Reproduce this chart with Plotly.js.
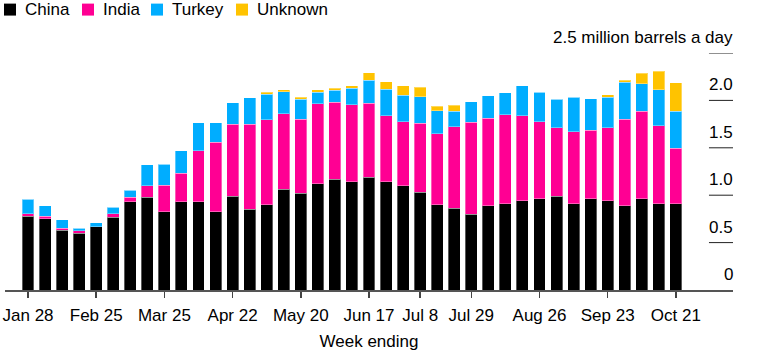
<!DOCTYPE html>
<html>
<head>
<meta charset="utf-8">
<script src="https://cdn.plot.ly/plotly-3.0.1.min.js"></script>
<style>
html,body{margin:0;padding:0;background:#fff;}
#chart{width:757px;height:357px;}
</style>
</head>
<body>
<div id="chart"></div>
<script>
// Week ending (2022)
const weeks = ["Jan 28","Feb 4","Feb 11","Feb 18","Feb 25","Mar 4","Mar 11","Mar 18","Mar 25","Apr 1","Apr 8","Apr 15","Apr 22","Apr 29","May 6","May 13","May 20","May 27","Jun 3","Jun 10","Jun 17","Jun 24","Jul 1","Jul 8","Jul 15","Jul 22","Jul 29","Aug 5","Aug 12","Aug 19","Aug 26","Sep 2","Sep 9","Sep 16","Sep 23","Sep 30","Oct 7","Oct 14","Oct 21"];
const tickWeeks = ["Jan 28","Feb 25","Mar 25","Apr 22","May 20","Jun 17","Jul 8","Jul 29","Aug 26","Sep 23","Oct 21"];

// million barrels a day
const china   = [0.78,0.75,0.63,0.60,0.665,0.765,0.93,0.98,0.825,0.93,0.93,0.825,0.99,0.85,0.90,1.065,1.02,1.12,1.17,1.14,1.19,1.14,1.10,1.03,0.90,0.865,0.80,0.89,0.91,0.94,0.965,0.99,0.91,0.965,0.94,0.89,0.965,0.91,0.91];
const india   = [0.025,0.03,0.02,0.025,0.0,0.04,0.05,0.12,0.28,0.30,0.54,0.735,0.76,0.90,0.895,0.795,0.78,0.845,0.81,0.815,0.78,0.70,0.675,0.73,0.75,0.855,0.97,0.92,0.94,0.90,0.81,0.72,0.76,0.72,0.77,0.91,0.92,0.825,0.585];
const turkey  = [0.15,0.11,0.09,0.025,0.045,0.07,0.07,0.22,0.22,0.24,0.295,0.205,0.225,0.28,0.27,0.23,0.21,0.12,0.125,0.175,0.24,0.28,0.28,0.28,0.24,0.165,0.215,0.24,0.23,0.315,0.31,0.30,0.365,0.335,0.325,0.39,0.29,0.38,0.39];
const unknown = [0,0,0,0,0,0,0,0,0,0,0,0,0,0,0.02,0.025,0.025,0.025,0.025,0.025,0.08,0.075,0.10,0.10,0.05,0.065,0,0,0,0,0,0,0,0,0.025,0.025,0.11,0.19,0.30];

const seriesNames = ["China","India","Turkey","Unknown"];
const seriesColors = ["#000000","#ff0093","#00adff","#ffc300"];
const seriesValues = [china, india, turkey, unknown];

const yTickVals = [0,0.5,1.0,1.5,2.0,2.5];
const yTickText = ["0","0.5","1.0","1.5","2.0","2.5 million barrels a day"];

const FONT = "'Liberation Sans', Arial, Helvetica, sans-serif";

const traces = seriesNames.map((n,i)=>({
  type:'bar', name:n, x:weeks, y:seriesValues[i],
  marker:{color:seriesColors[i], line:{color:'rgba(255,255,255,0.35)', width:1}},
  hoverinfo:'x+y+name'
}));

const shapes = [];
const annotations = [];
yTickVals.forEach((v,i)=>{
  if(v>0){
    shapes.push({type:'line', xref:'paper', yref:'y', x0:0.967, x1:1, y0:v, y1:v, line:{color:'#222', width:1}});
  }
  annotations.push({xref:'paper', yref:'y', x:1, y:v, yshift:15.5, xshift:2, xanchor:'right', yanchor:'middle', showarrow:false,
    text:yTickText[i], font:{family:FONT, size:17, color:'#000'}});
});

// legend (custom)
const legX = [4,82,151,236];
seriesNames.forEach((n,i)=>{
  shapes.push({type:'rect', xref:'paper', yref:'paper',
    x0:(legX[i]-5)/728, x1:(legX[i]+12-5)/728,
    y0:(290-3)/237.5, y1:(290-15)/237.5, fillcolor:seriesColors[i], line:{width:0}});
  annotations.push({xref:'paper', yref:'paper', x:(legX[i]+19-5)/728, y:(290-9)/237.5, xanchor:'left', yanchor:'middle',
    showarrow:false, text:n, font:{family:FONT, size:17, color:'#000'}});
});

const layout = {
  width:757, height:357,
  margin:{l:5, r:24, t:52.5, b:67},
  paper_bgcolor:'#fff', plot_bgcolor:'#fff',
  barmode:'stack', bargap:0.3,
  showlegend:false,
  font:{family:FONT, size:17, color:'#000'},
  xaxis:{type:'category', range:[-1.35,41.35], tickmode:'array', tickvals:tickWeeks, ticktext:tickWeeks,
    ticks:'outside', ticklen:6, tickcolor:'#444', tickwidth:1.5, showline:true, linecolor:'#555', linewidth:1.5,
    ticklabelstandoff:3,
    showgrid:false, zeroline:false, tickfont:{family:FONT, size:17, color:'#000'},
    title:{text:'Week ending', font:{family:FONT, size:17, color:'#000'}, standoff:11}},
  yaxis:{range:[0,2.5], showticklabels:false, showgrid:false, zeroline:false, showline:false, ticks:''},
  shapes:shapes, annotations:annotations
};

Plotly.newPlot('chart', traces, layout, {displayModeBar:false, staticPlot:true});
</script>
</body>
</html>
